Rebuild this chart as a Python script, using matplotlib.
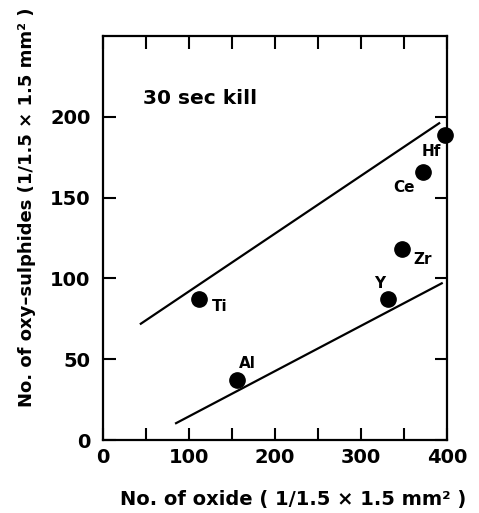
import matplotlib
matplotlib.use('Agg')
import matplotlib.pyplot as plt

plt.rcParams['font.family'] = ['DejaVu Sans']
plt.rcParams['font.weight'] = 'bold'

# measured points
elements = ['Ti', 'Al', 'Y', 'Zr', 'Ce', 'Hf']
oxide = [112, 156, 332, 348, 372, 398]
oxysulph = [87, 37, 87, 118, 166, 189]

# label offsets in points (dx, dy)
label_off = {'Ti': (9, -5), 'Al': (1, 12), 'Y': (-10, 11.5),
             'Zr': (8, -7), 'Ce': (-21, -11.5), 'Hf': (-17, -12)}

# the two bounding lines
upper_x = [44, 391]
upper_y = [72, 196]
lower_x = [85, 394]
lower_y = [10.5, 97]

x_ticks = [0, 100, 200, 300, 400]
y_ticks = [0, 50, 100, 150, 200]

fig = plt.figure(figsize=[4.79, 5.13], dpi=100)
ax = fig.add_axes([0.215, 0.142, 0.718, 0.788])

ax.plot(upper_x, upper_y, color='k', lw=1.6)
ax.plot(lower_x, lower_y, color='k', lw=1.6)
ax.plot(oxide, oxysulph, 'o', color='k', markersize=11, clip_on=False)

for el, xv, yv in zip(elements, oxide, oxysulph):
    dx, dy = label_off[el]
    ax.annotate(el, (xv, yv), xytext=(dx, dy), textcoords='offset points',
                fontsize=11, fontweight='bold', ha='left', va='center')

ax.text(46, 211, '30 sec kill', fontsize=14.5, fontweight='bold', va='center')

ax.set_xlim(0, 400)
ax.set_ylim(0, 250)
ax.set_xticks(x_ticks)
ax.set_xticks(range(0, 401, 50), minor=True)
ax.set_yticks(y_ticks)
ax.tick_params(axis='both', which='both', direction='in', length=9, width=1.5,
               top=True, right=True, labelsize=14, pad=6)
ax.tick_params(axis='y', pad=9)
for lab in ax.get_xticklabels() + ax.get_yticklabels():
    lab.set_fontweight('bold')
for sp in ax.spines.values():
    sp.set_linewidth(1.6)

ax.set_xlabel('No. of oxide ( 1/1.5 \u00d7 1.5 mm\u00b2 )', fontsize=14, fontweight='bold')
ax.set_ylabel('No. of oxy\u2013sulphides (1/1.5 \u00d7 1.5 mm\u00b2 )', fontsize=13, fontweight='bold')
ax.xaxis.set_label_coords(0.552, -0.124)
ax.yaxis.set_label_coords(-0.195, 0.577)

plt.savefig('out.png', dpi=100)
